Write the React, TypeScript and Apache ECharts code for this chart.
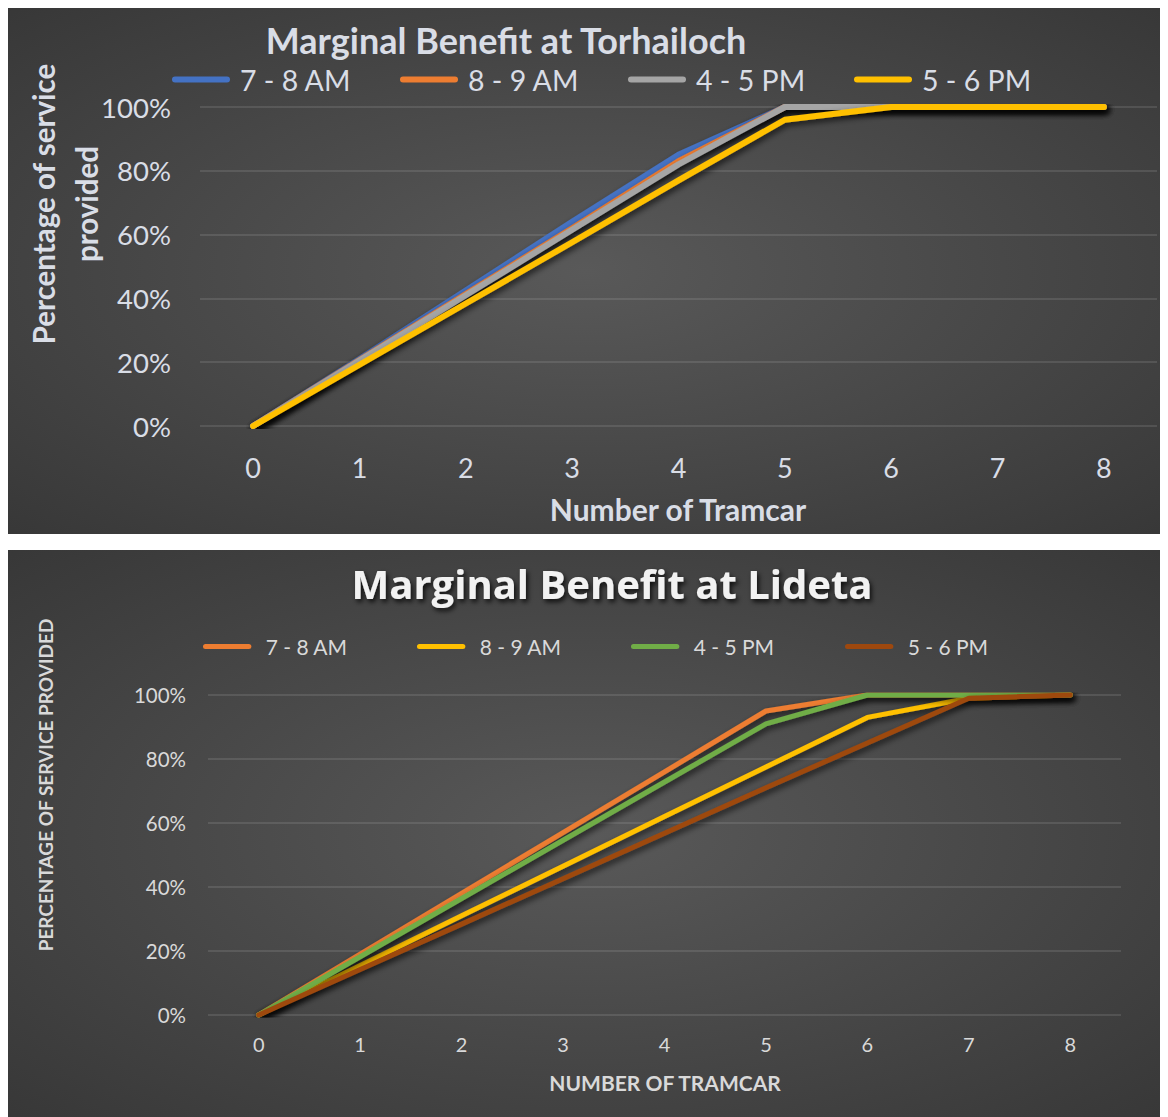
import React, { useEffect, useRef } from "react";
import * as echarts from "echarts";

const categories = ["0", "1", "2", "3", "4", "5", "6", "7", "8"];

// Torhailoch (percent)
const torNames = ["7 - 8 AM", "8 - 9 AM", "4 - 5 PM", "5 - 6 PM"];
const tor78 = [0, 21, 42.5, 64, 85, 100, 100, 100, 100];
const tor89 = [0, 20.7, 41.4, 62, 83, 100, 100, 100, 100];
const tor45 = [0, 20.5, 41, 61.5, 82, 100, 100, 100, 100];
const tor56 = [0, 19.2, 38.4, 57.6, 77, 96, 100, 100, 100];
const torColors = ["#4472C4", "#ED7D31", "#A5A5A5", "#FFC000"];

// Lideta (percent)
const lidNames = ["7 - 8 AM", "8 - 9 AM", "4 - 5 PM", "5 - 6 PM"];
const lid78 = [0, 19, 38, 57, 76, 95, 100, 100, 100];
const lid89 = [0, 15.5, 31, 46.5, 62, 77.5, 93, 99, 100];
const lid45 = [0, 18.2, 36.4, 54.6, 72.8, 91, 100, 100, 100];
const lid56 = [0, 14.2, 28.4, 42.6, 56.8, 71, 85, 99, 100];
const lidColors = ["#ED7D31", "#FFC000", "#70AD47", "#9E480E"];

const yTicks = [0, 20, 40, 60, 80, 100];

const FONT = "Lato, 'Open Sans', sans-serif";
const capsule = "path://M3,0 H55 A3,3 0 0 1 55,6 H3 A3,3 0 0 1 3,0 Z";

const bg = {
  type: "radial",
  x: 0.5,
  y: 0.5,
  r: 1.25,
  colorStops: [
    { offset: 0, color: "#595959" },
    { offset: 1, color: "#1e1e1e" },
  ],
};

function makeSeries(names: string[], data: number[][], colors: string[], width: number) {
  return names.map((n, i) => ({
    name: n,
    type: "line",
    data: data[i],
    symbol: "none",
    color: colors[i],
    lineStyle: {
      width,
      color: colors[i],
      cap: "round",
      join: "round",
      shadowColor: "rgba(0,0,0,0.7)",
      shadowBlur: 6,
      shadowOffsetX: 2,
      shadowOffsetY: 3,
    },
  }));
}

function topOption() {
  const txt = "#d9dde6";
  const legendLefts = [164, 392, 620, 846];
  return {
    animation: false,
    backgroundColor: bg,
    legend: torNames.map((n, i) => ({
      data: [n],
      left: legendLefts[i],
      top: 57,
      padding: 0,
      icon: capsule,
      itemWidth: 58,
      itemHeight: 6,
      itemGap: 0,
      textStyle: { color: txt, fontSize: 28.5, fontFamily: FONT, padding: [0, 0, 0, 5] },
      selectedMode: false,
    })),
    grid: { left: 192, right: 8, top: 99, bottom: 108 },
    xAxis: {
      type: "category",
      data: categories,
      boundaryGap: true,
      axisLine: { show: false },
      axisTick: { show: false },
      axisLabel: { color: txt, fontSize: 27, fontFamily: FONT, margin: 28 },
    },
    yAxis: {
      type: "value",
      min: yTicks[0],
      max: yTicks[yTicks.length - 1],
      interval: 20,
      axisLine: { show: false },
      axisTick: { show: false },
      axisLabel: { color: txt, fontSize: 27.5, fontFamily: FONT, margin: 29, formatter: "{value}%" },
      splitLine: { lineStyle: { color: "rgba(200,200,200,0.2)", width: 1.5 } },
    },
    graphic: [
      {
        type: "text",
        x: 498,
        y: 32,
        style: {
          text: "Marginal Benefit at Torhailoch",
          font: `bold 36px ${FONT}`,
          fill: txt,
          align: "center",
          verticalAlign: "middle",
        },
      },
      {
        type: "text",
        x: 57,
        y: 196,
        rotation: Math.PI / 2,
        style: {
          text: "Percentage of service\nprovided",
          font: `bold 29.5px ${FONT}`,
          lineHeight: 43,
          fill: txt,
          align: "center",
          verticalAlign: "middle",
        },
      },
      {
        type: "text",
        x: 670,
        y: 501,
        style: {
          text: "Number of Tramcar",
          font: `bold 30px ${FONT}`,
          fill: txt,
          align: "center",
          verticalAlign: "middle",
        },
      },
    ],
    series: makeSeries(torNames, [tor78, tor89, tor45, tor56], torColors, 6),
  };
}

function bottomOption() {
  const txt = "#d9d9d9";
  const legendLefts = [195, 409, 623, 837];
  return {
    animation: false,
    backgroundColor: bg,
    legend: lidNames.map((n, i) => ({
      data: [n],
      left: legendLefts[i],
      top: 86,
      padding: 0,
      icon: capsule,
      itemWidth: 57,
      itemHeight: 5,
      itemGap: 0,
      textStyle: { color: txt, fontSize: 21, fontFamily: FONT, padding: [0, 0, 0, 5] },
      selectedMode: false,
    })),
    grid: { left: 200, right: 47, top: 145, bottom: 102 },
    xAxis: {
      type: "category",
      data: categories,
      boundaryGap: true,
      axisLine: { show: false },
      axisTick: { show: false },
      axisLabel: { color: txt, fontSize: 20, fontFamily: FONT, margin: 19 },
    },
    yAxis: {
      type: "value",
      min: yTicks[0],
      max: yTicks[yTicks.length - 1],
      interval: 20,
      axisLine: { show: false },
      axisTick: { show: false },
      axisLabel: { color: txt, fontSize: 20.5, fontFamily: FONT, margin: 22, formatter: "{value}%" },
      splitLine: { lineStyle: { color: "rgba(200,200,200,0.2)", width: 1.5 } },
    },
    graphic: [
      {
        type: "text",
        x: 604,
        y: 33,
        style: {
          text: "Marginal Benefit at Lideta",
          font: `bold 40px 'Open Sans', Lato, sans-serif`,
          fill: "#f2f2f2",
          align: "center",
          verticalAlign: "middle",
          textShadowColor: "rgba(0,0,0,0.8)",
          textShadowBlur: 5,
          textShadowOffsetX: 2,
          textShadowOffsetY: 3,
        },
      },
      {
        type: "text",
        x: 37,
        y: 235,
        rotation: Math.PI / 2,
        style: {
          text: "PERCENTAGE OF SERVICE PROVIDED",
          font: `bold 19px ${FONT}`,
          fill: txt,
          align: "center",
          verticalAlign: "middle",
        },
      },
      {
        type: "text",
        x: 657,
        y: 532,
        style: {
          text: "NUMBER OF TRAMCAR",
          font: `bold 21px ${FONT}`,
          fill: txt,
          align: "center",
          verticalAlign: "middle",
        },
      },
    ],
    series: makeSeries(lidNames, [lid78, lid89, lid45, lid56], lidColors, 5),
  };
}

function Chart({ option, width, height, style }: { option: any; width: number; height: number; style?: any }) {
  const ref = useRef<HTMLDivElement>(null);
  useEffect(() => {
    if (!ref.current) return;
    const chart = echarts.init(ref.current, undefined, { renderer: "svg" });
    chart.setOption(option);
    return () => chart.dispose();
  }, [option]);
  return <div ref={ref} style={{ width, height, ...style }} />;
}

const top = topOption();
const bottom = bottomOption();

export default function App() {
  return (
    <div style={{ width: 1160 }}>
      <Chart option={top} width={1157} height={526} />
      <Chart option={bottom} width={1160} height={567} style={{ marginTop: 16 }} />
    </div>
  );
}
